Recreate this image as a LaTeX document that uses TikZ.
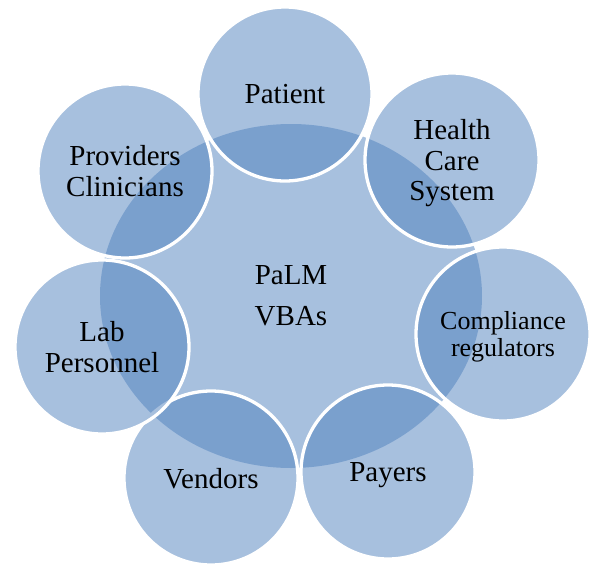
\documentclass[tikz,border=0pt]{standalone}
\usepackage{fontspec}
\setmainfont{Liberation Serif}
\usetikzlibrary{shapes.geometric}

\definecolor{officeblue}{HTML}{4F81BD}

\begin{document}
\begin{tikzpicture}[
        x=1pt, y=1pt,
        every node/.style={fill=officeblue, fill opacity=0.5, text opacity=1, align=center, inner sep=0pt,
            text depth=0pt, font=\fontsize{29}{30.5}\selectfont},
        hub/.style={ellipse, minimum width=382pt, minimum height=344pt, font=\fontsize{29}{41}\selectfont},
        stakeholder/.style={circle, draw=white, line width=3.3pt, minimum size=174pt}
    ]
        \useasboundingbox (0,0) rectangle (590,-565);

        % Central Node
        \node[hub] (vbas) at (291,-296) {PaLM\\VBAs};

        % Stakeholder circles, clockwise from the top
        \node[stakeholder] (patient) at (285,-94) {Patient};
        \node[stakeholder] (healthCare) at (452,-160) {Health\\Care\\System};
        \node[stakeholder, font=\fontsize{26}{27}\selectfont] (compliance) at (503,-334) {Compliance\\regulators};
        \node[stakeholder] (payers) at (388,-472) {Payers};
        \node[stakeholder] (vendors) at (211,-478) {Vendors};
        \node[stakeholder] (labPersonnel) at (102,-347) {Lab\\Personnel};
        \node[stakeholder] (providers) at (125,-171) {Providers\\Clinicians};

    \end{tikzpicture}
\end{document}
